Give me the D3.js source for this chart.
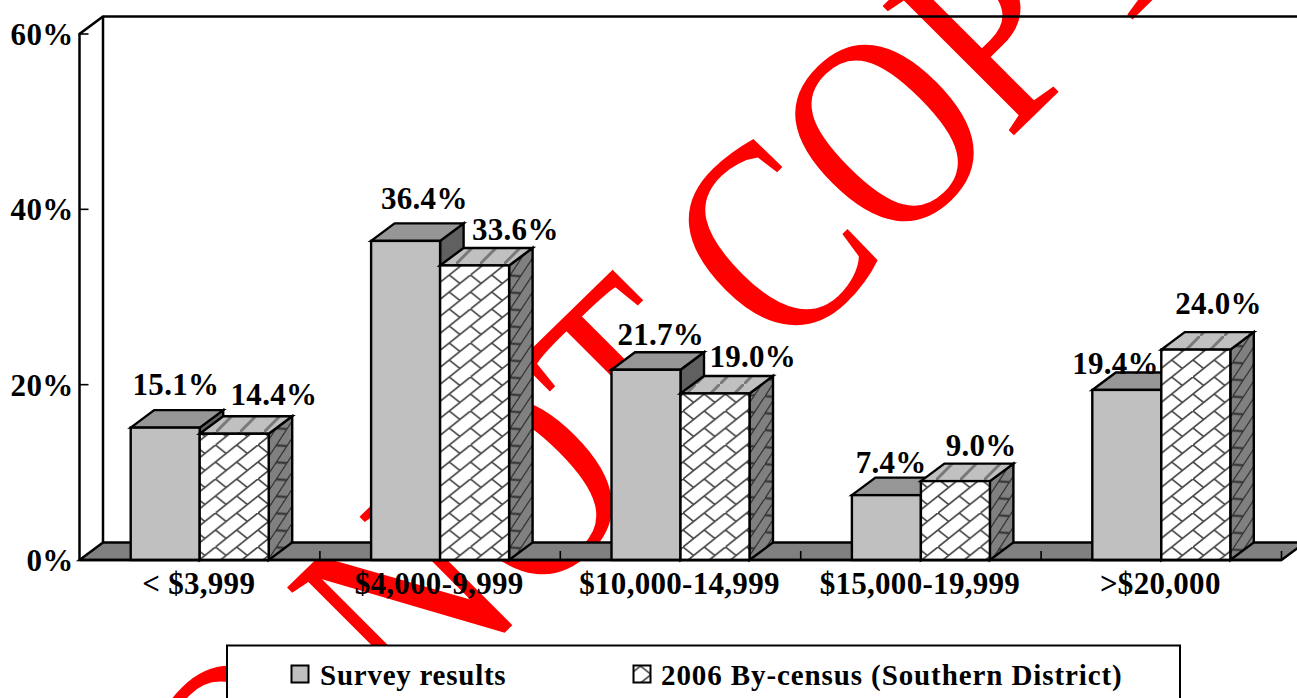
<!DOCTYPE html>
<html><head><meta charset="utf-8">
<style>html,body{margin:0;padding:0;background:#fff;overflow:hidden}svg{display:block}text{font-family:"Liberation Serif",serif;font-weight:bold;fill:#000}</style>
<script src="https://cdn.jsdelivr.net/npm/d3@7/dist/d3.min.js"></script>
</head><body><script>
const categories=["< $3,999","$4,000-9,999","$10,000-14,999","$15,000-19,999",">$20,000"];
const surveyValues=[15.1,36.4,21.7,7.4,19.4];
const censusValues=[14.4,33.6,19.0,9.0,24.0];
const tickValues=[0,20,40,60];
const seriesNames=["Survey results","2006 By-census (Southern District)"];
const watermark="DO NOT COPY";

const W=1297,H=698,dx=23.5,dy=-17.5,barW=69;
const svg=d3.select("body").append("svg").attr("width",W).attr("height",H);
const defs=svg.append("defs");
defs.append("filter").attr("id","soft").attr("x","-10%").attr("y","-10%").attr("width","120%").attr("height","120%")
  .append("feGaussianBlur").attr("stdDeviation",0.5);
function brick(id,bg,line,tf,sw){
  const p=defs.append("pattern").attr("id",id).attr("patternUnits","userSpaceOnUse").attr("width",34).attr("height",34);
  if(tf)p.attr("patternTransform",tf);
  p.append("rect").attr("width",34).attr("height",34).attr("fill",bg);
  p.append("path").attr("d","M-2,19L19,-2M-2,36L36,-2M15,36L36,15M0,0L8.5,8.5M17,17L25.5,25.5M0,17L8.5,25.5M17,0L25.5,8.5M34,0L42.5,8.5M34,17L42.5,25.5M-8.5,25.5L0,34")
    .attr("stroke",line).attr("stroke-width",sw).attr("fill","none").attr("filter","url(#soft)");
}
brick("bF","#fff","#4a4a4a","translate(3,3) scale(1.25 1)",1.6);
brick("bS","#808080","#333","skewY(-36) scale(1.25 1)",1.6);
const topP=defs.append("pattern").attr("id","bT").attr("patternUnits","userSpaceOnUse").attr("width",24).attr("height",24);
topP.append("rect").attr("width",24).attr("height",24).attr("fill","#c0c0c0");
topP.append("path").attr("d","M-3,27L27,-3").attr("stroke","#787878").attr("stroke-width",3).attr("filter","url(#soft)");

const x=d3.scaleBand().domain(categories).range([79.5,1281.5]);
const y=d3.scaleLinear().domain([0,60]).range([560,34]);
const cx=c=>x(c)+x.bandwidth()/2;

// watermark behind everything
svg.append("text").text(watermark).attr("transform","matrix(1.62,-1.582,1.99,1.99,138.2,990.5)")
  .attr("font-size",100).style("font-weight","normal").style("fill","#f00").attr("xml:space","preserve");

// walls and floor
const x0=x.range()[0],x1=x.range()[1],y0=y(0),yT=y(60);
const wall=svg.append("g").attr("fill","none").attr("stroke","#000").attr("stroke-width",2.5);
svg.append("path").attr("d",`M${x0},${y0}L${x0+dx},${y0+dy}L${x1+dx},${y0+dy}L${x1},${y0}Z`)
  .attr("fill","#808080").attr("stroke","#000").attr("stroke-width",2.4);
wall.append("path").attr("d",`M${x0},${y0}L${x0},${yT}L${x0+dx},${yT+dy}L${W+5},${yT+dy}M${x0+dx},${yT+dy}L${x0+dx},${y0+dy}`);
const ticks=svg.append("g").attr("stroke","#000").attr("stroke-width",1.6);
tickValues.forEach(t=>ticks.append("line").attr("x1",x0).attr("x2",x0+9).attr("y1",y(t)).attr("y2",y(t)));
d3.range(1,6).forEach(i=>{const tx=x0+i*x.bandwidth();ticks.append("line").attr("x1",tx).attr("x2",tx).attr("y1",y0).attr("y2",y0-9)});

// bars
const bars=svg.append("g").attr("stroke","#000").attr("stroke-width",2.4).attr("stroke-linejoin","miter");
function bar(xl,v,front,top,side){
  const t=y(v),xr=xl+barW;
  bars.append("path").attr("d",`M${xr},${y0}L${xr+dx},${y0+dy}L${xr+dx},${t+dy}L${xr},${t}Z`).attr("fill",side);
  bars.append("path").attr("d",`M${xl},${t}L${xl+dx},${t+dy}L${xr+dx},${t+dy}L${xr},${t}Z`).attr("fill",top);
  bars.append("rect").attr("x",xl).attr("y",t).attr("width",barW).attr("height",y0-t).attr("fill",front);
}
categories.forEach((c,i)=>{
  bar(cx(c)-barW,surveyValues[i],"#c0c0c0","#969696","#606060");
  bar(cx(c),censusValues[i],"url(#bF)","url(#bT)","url(#bS)");
});
svg.append("line").attr("x1",x0).attr("x2",x1).attr("y1",y0).attr("y2",y0).attr("stroke","#000").attr("stroke-width",2.6);

// text
const fs=31,ls=.3;
function label(s,px,py,anchor){
  return svg.append("text").text(s).attr("x",px).attr("y",py).attr("text-anchor",anchor||"middle").attr("font-size",fs).attr("letter-spacing",ls);
}
tickValues.forEach(t=>label(t+"%",73.5,y(t)+11,"end"));
categories.forEach(c=>label(c,cx(c)-1,594));
// label nudges relative to the back-top edge of each bar
const surveyNudge=[[-1,-15],[7,-14],[3,-7],[-7,-5],[-23,2]];
const censusNudge=[[14,-11],[15,-8],[12,-9],[0,-8],[-3,-18]];
categories.forEach((c,i)=>{
  label(surveyValues[i].toFixed(1)+"%",cx(c)-barW/2+dx/2+surveyNudge[i][0],y(surveyValues[i])+dy+surveyNudge[i][1]);
  label(censusValues[i].toFixed(1)+"%",cx(c)+barW/2+dx/2+censusNudge[i][0]+14,y(censusValues[i])+dy+censusNudge[i][1]);
});

// legend
svg.append("rect").attr("x",227).attr("y",645.5).attr("width",953).attr("height",70).attr("fill","#fff").attr("stroke","#000").attr("stroke-width",2);
svg.append("rect").attr("x",291.5).attr("y",665.5).attr("width",17).attr("height",17).attr("fill","#c0c0c0").attr("stroke","#000").attr("stroke-width",2);
svg.append("rect").attr("x",633.5).attr("y",665.5).attr("width",17).attr("height",17).attr("fill","url(#bF)").attr("stroke","#000").attr("stroke-width",2);
svg.append("text").text(seriesNames[0]).attr("x",320).attr("y",685).attr("font-size",29).attr("letter-spacing",.75);
svg.append("text").text(seriesNames[1]).attr("x",661).attr("y",685).attr("font-size",29).attr("letter-spacing",.9);
</script></body></html>
